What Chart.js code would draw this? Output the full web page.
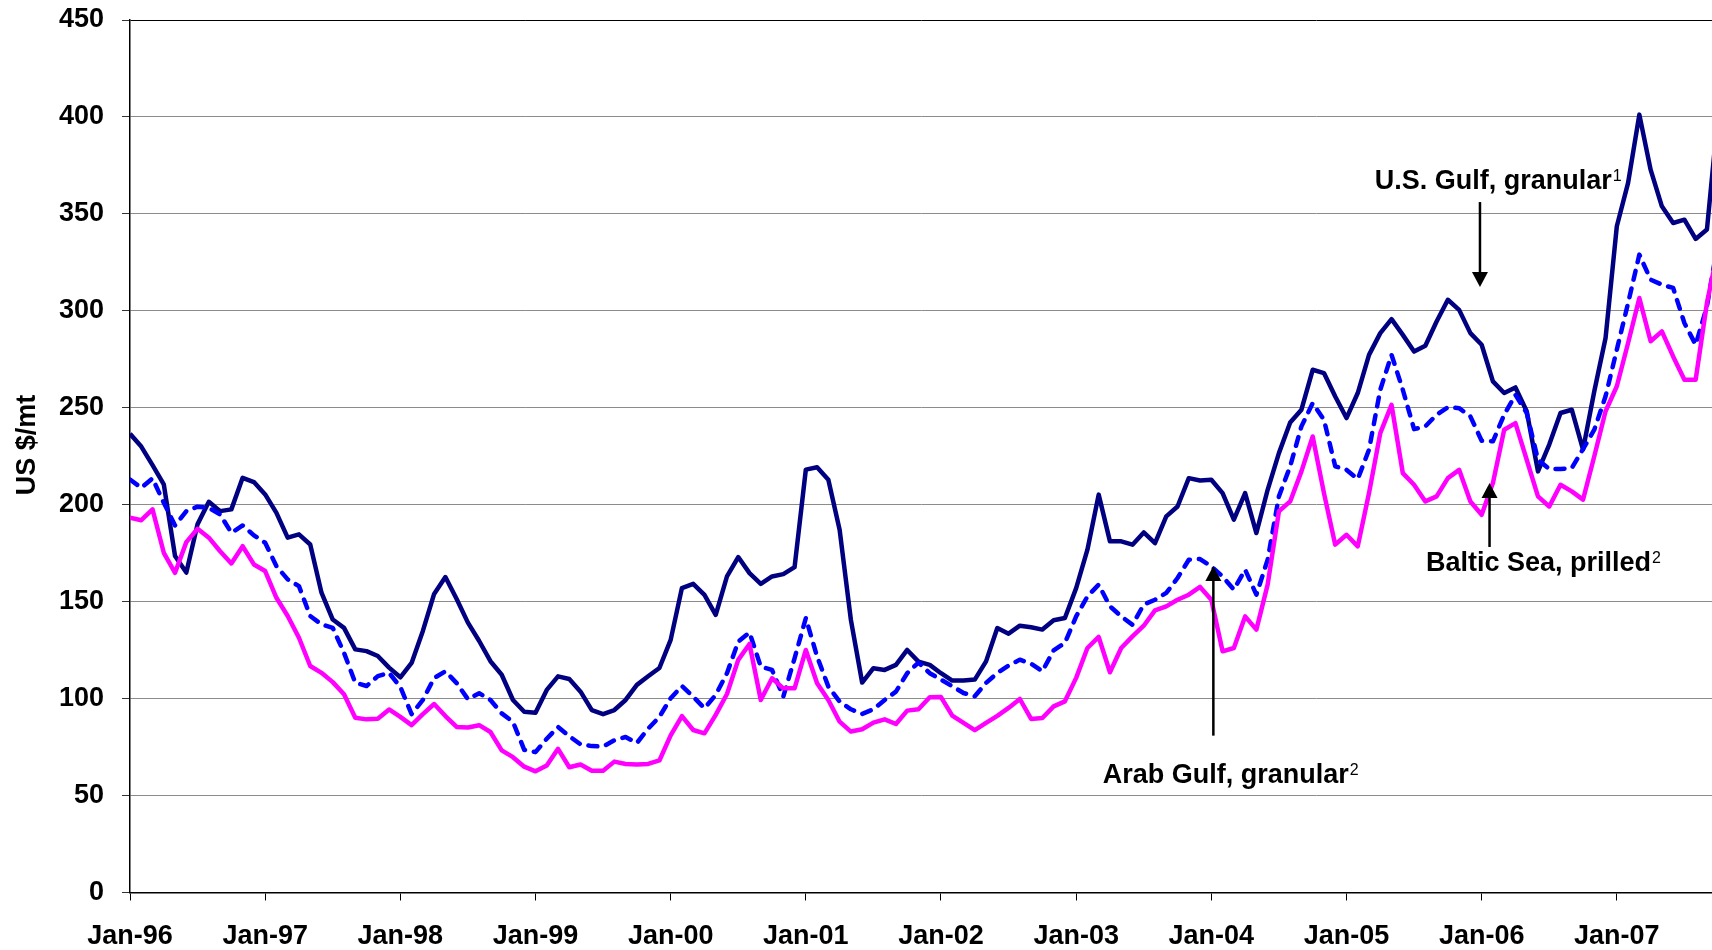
<!DOCTYPE html>
<html>
<head>
<meta charset="utf-8">
<script src="https://cdn.jsdelivr.net/npm/chart.js@4.4.0/dist/chart.umd.min.js"></script>
<style>
html,body{margin:0;padding:0;background:#fff;}
#wrap{width:1712px;height:950px;position:relative;}
</style>
</head>
<body>
<div id="wrap"><canvas id="c" width="1712" height="950"></canvas></div>
<script>
// Monthly urea prices, US $/mt, Jan-96 onward (index 0 = Jan-96)
const usGulf = [
236.6,230,220.4,210.5,173.5,165,190,201.5,196.7,197.6,213.9,211.7,
205.3,195.8,183,184.7,179.5,154.6,140.8,136.5,125.4,124.5,122,116,
111,118.4,134.9,154,162.7,151.4,139.2,129.7,119.3,112.3,99.3,93.2,
92.7,104.5,111.5,110.1,103.6,94.1,92,94.1,99.3,107.1,111.5,115.8,
130.3,157,159.2,153.5,143.2,163,173,164.7,159.2,163,164.2,167.8,
218.1,219.3,212.9,187.1,140.6,108.3,115.7,114.8,117.4,125.1,119.1,117.4,
113.1,109.3,109.3,109.8,119.2,136.4,133.5,137.6,136.8,135.6,140.4,141.6,
157,176.8,205.2,181.1,181.1,179.4,185.7,180.2,194,199.1,213.7,212.5,
212.9,206,192.3,206,185.4,207.7,226.6,242.4,249,269.6,267.9,255.8,
244.7,257.6,277.3,288.5,295.7,287.6,279,282,294.5,305.7,300.5,288.5,
282.5,263.6,257.6,260.5,248.2,217.2,231,247.3,249,228.4,258.5,286,
343.6,366,401.2,372.8,353.9,345.3,347,337.1,341.9,402
];
const arabGulf = [
213,208.7,213.6,201,189.3,196.7,199,198.4,195,185.5,189.3,184.2,
180.4,168.3,161.5,158,142.6,138.3,136.5,123.6,108.2,106.5,111.6,113.3,
106,92,99.3,110.6,114.1,108,99.7,102.8,99.3,92.4,88,73.6,
72.4,79.3,85.4,80.6,76.4,75.5,75.3,78.5,80.2,77.1,84.5,90.6,
100.2,106.5,101,95,101.9,113.1,129.4,134.1,116.5,114.8,101,120.8,
141.5,121.7,106.2,98.5,94.5,92.1,94.5,99.3,103.6,113.1,118.6,113.1,
109.8,106.4,102.9,101.2,108.1,113.2,117,120.1,118,114.1,124.9,128.7,
142.4,152.7,158.8,147.6,142.4,138.1,148.5,151,154.5,162.2,171.6,172,
168.2,163,156.2,166.5,153.6,171.6,204.3,219.8,240.4,252.4,243.8,219.8,
218,213.2,228.4,259.3,277.3,259.3,239,240.4,246.4,250.3,249.8,245.5,
233,232.7,246.4,256.7,247.3,223.2,218.4,218.4,218.9,228.7,238.7,255.9,
280,304,329,316.1,313.5,311.8,293.7,282.5,302.3,336
];
const baltic = [
193.3,192,197.6,175.2,164.9,180.7,187.6,183,176,169.7,178.6,169.2,
165.8,152,142.6,131.4,116.8,113.3,108.5,102.2,90.1,89.3,89.6,94.4,
90.6,86.3,92,97.2,91,85.4,85.1,86.3,82.8,73.3,69.8,64.9,
62.5,65.5,74.1,64.6,66,62.8,62.8,67.5,66.3,66,66.3,68.1,
81,91,83.8,82.1,91.6,102.4,120,128.2,99.3,110.5,105.3,105.3,
125.1,107.9,99.3,88.1,83,84.2,87.6,89.3,86.9,93.8,94.5,100.7,
100.8,91.2,87.5,83.7,87.5,91.1,95.2,99.8,89.5,90,96,98.6,
110.7,126.1,131.8,113.6,126.1,132.1,137.6,145.5,147.6,151,153.6,157.6,
151,124.4,126.1,142.4,135.6,158.8,196.6,201.7,217.2,235.2,206,179.4,
184.5,178.5,206,236.9,251.5,216.3,210.3,201.7,204.3,213.7,218,201.7,
194.8,211.2,238.7,242.1,223.2,204.3,199.1,210.3,206.9,202.6,225,248.2,
261.1,283.4,306.6,284.3,289.4,276.5,264.5,264.5,304,332
];
const tickMonths = [0,12,24,36,48,60,72,84,96,108,120,132];
const tickLabels = ['Jan-96','Jan-97','Jan-98','Jan-99','Jan-00','Jan-01','Jan-02','Jan-03','Jan-04','Jan-05','Jan-06','Jan-07'];
const yTicks = [0,50,100,150,200,250,300,350,400,450];
const yTitle = 'US $/mt';
// annotation labels, placed in data units (month index, US $/mt)
const labels = [
  {text:'U.S. Gulf, granular', sup:'1', tx:110.5, ty:362.6, ax:119.85, from:356.1, to:312.3},
  {text:'Baltic Sea, prilled', sup:'2', tx:115.06, ty:165.8, ax:120.7, from:178.2, to:211.2},
  {text:'Arab Gulf, granular', sup:'2', tx:86.35, ty:56.3, ax:96.18, from:80.9, to:168.4}
];

const FONT = '"Liberation Sans", Arial, Helvetica, sans-serif';
const toXY = arr => arr.map((v,i)=>({x:i,y:v}));

const annotPlugin = {
  id:'annot',
  afterDatasetsDraw(chart){
    const {ctx, scales:{x,y}} = chart;
    ctx.save();
    labels.forEach(l=>{
      const px = x.getPixelForValue(l.ax);
      const y1 = y.getPixelForValue(l.from);
      const y2 = y.getPixelForValue(l.to);
      const dir = y2 > y1 ? 1 : -1;
      const head = 15, hw = 8;
      ctx.strokeStyle = '#000';
      ctx.fillStyle = '#000';
      ctx.lineWidth = 2.5;
      ctx.beginPath();
      ctx.moveTo(px, y1);
      ctx.lineTo(px, y2 - dir*head);
      ctx.stroke();
      ctx.beginPath();
      ctx.moveTo(px, y2);
      ctx.lineTo(px - hw, y2 - dir*head);
      ctx.lineTo(px + hw, y2 - dir*head);
      ctx.closePath();
      ctx.fill();
      const tx = x.getPixelForValue(l.tx);
      const ty = y.getPixelForValue(l.ty);
      ctx.font = 'bold 27px ' + FONT;
      ctx.textAlign = 'left';
      ctx.textBaseline = 'alphabetic';
      ctx.fillText(l.text, tx, ty);
      const w = ctx.measureText(l.text).width;
      ctx.font = '16px ' + FONT;
      ctx.fillText(l.sup, tx + w + 1, ty - 8);
    });
    // y-axis title
    ctx.font = 'bold 27px ' + FONT;
    ctx.textAlign = 'center';
    ctx.textBaseline = 'middle';
    ctx.translate(28, 445);
    ctx.rotate(-Math.PI/2);
    ctx.fillText(yTitle, 0, 0);
    ctx.restore();
  }
};

new Chart(document.getElementById('c'), {
  type:'line',
  data:{
    datasets:[
      {label:'Baltic Sea, prilled', data:toXY(baltic), borderColor:'#FF00FF', borderWidth:4.5},
      {label:'Arab Gulf, granular', data:toXY(arabGulf), borderColor:'#0000FF', borderWidth:4.5, borderDash:[9,9], borderCapStyle:'round'},
      {label:'U.S. Gulf, granular', data:toXY(usGulf), borderColor:'#000080', borderWidth:4.5}
    ]
  },
  options:{
    responsive:false,
    animation:false,
    devicePixelRatio:1,
    layout:{padding:{top:20,left:0,right:0,bottom:0}},
    elements:{point:{radius:0}, line:{tension:0, borderJoinStyle:'round', fill:false}},
    plugins:{legend:{display:false}, tooltip:{enabled:false}, title:{display:false}},
    scales:{
      x:{
        type:'linear', min:0, max:140.45,
        afterBuildTicks:s=>{ s.ticks = tickMonths.map(v=>({value:v})); },
        afterFit:s=>{ s.height = 57.5; s.paddingLeft = 0; s.paddingRight = 0; },
        ticks:{
          autoSkip:false, maxRotation:0, padding:20, color:'#000',
          font:{family:FONT, size:27, weight:'bold'},
          callback:v=>tickLabels[tickMonths.indexOf(v)]
        },
        grid:{display:true, drawOnChartArea:false, drawTicks:true, tickLength:8, tickColor:'#000', tickWidth:1},
        border:{display:true, color:'#000', width:1.5}
      },
      y:{
        type:'linear', min:0, max:450,
        afterBuildTicks:s=>{ s.ticks = yTicks.map(v=>({value:v})); },
        afterFit:s=>{ s.width = 130; s.paddingTop = 0; s.paddingBottom = 0; },
        ticks:{padding:18, color:'#000', font:{family:FONT, size:27, weight:'bold'}},
        grid:{
          drawTicks:true, tickLength:8, tickColor:'#333', lineWidth:1,
          color:c=> (c.tick && (c.tick.value===450 || c.tick.value===0)) ? '#000' : '#8c8c8c'
        },
        border:{display:true, color:'#000', width:1.5}
      }
    }
  },
  plugins:[annotPlugin]
});
</script>
</body>
</html>
